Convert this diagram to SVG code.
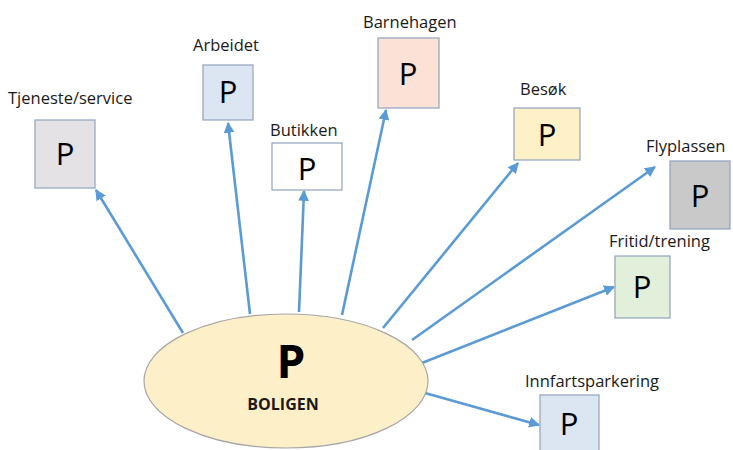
<svg xmlns="http://www.w3.org/2000/svg" width="733" height="450" viewBox="0 0 733 450">
<defs>
<style>
.box{stroke:#8fa3bd;stroke-width:1.2}
.lbl{font-family:"Open Sans","Liberation Sans",sans-serif;font-size:16.5px;fill:#1a1a1a}
.p{font-family:"Open Sans","Liberation Sans",sans-serif;font-size:31px;fill:#000;text-anchor:middle}
.conn{stroke:#5b9bd5;stroke-width:2.6;fill:none;marker-end:url(#ah)}
</style>
<marker id="ah" viewBox="0 0 10 10" refX="9" refY="5" markerWidth="4.2" markerHeight="4.2" orient="auto" markerUnits="strokeWidth">
<path d="M0,0 L10,5 L0,10 z" fill="#5b9bd5"/>
</marker>
</defs>
<rect width="733" height="450" fill="#fff"/>
<g id="connectors">
<line class="conn" x1="183" y1="333" x2="96" y2="190"/>
<line class="conn" x1="250" y1="314" x2="228" y2="123"/>
<line class="conn" x1="299" y1="312" x2="304" y2="191"/>
<line class="conn" x1="342" y1="315" x2="386" y2="110"/>
<line class="conn" x1="383" y1="328" x2="518" y2="163"/>
<line class="conn" x1="412" y1="340" x2="655" y2="167"/>
<line class="conn" x1="422" y1="363" x2="614" y2="287"/>
<line class="conn" x1="425" y1="393" x2="539" y2="425"/>
</g>
<g id="boligen">
<ellipse cx="286" cy="381" rx="142" ry="67" fill="#fdf0c8" stroke="#a6a6a6" stroke-width="1.2"/>
<text x="291" y="378" font-family="Open Sans, Liberation Sans, sans-serif" font-size="46" font-weight="bold" text-anchor="middle" fill="#000">P</text>
<text x="283" y="410" font-family="Open Sans, Liberation Sans, sans-serif" font-size="16" font-weight="bold" text-anchor="middle" fill="#1a1a1a">BOLIGEN</text>
</g>
<g id="tjeneste">
<text class="lbl" x="8" y="104">Tjeneste/service</text>
<rect class="box" x="35" y="120" width="60" height="68" fill="#e4e2e4"/>
<text class="p" x="65" y="165">P</text>
</g>
<g id="arbeidet">
<text class="lbl" x="193" y="51">Arbeidet</text>
<rect class="box" x="203" y="65" width="50" height="55" fill="#dce6f2"/>
<text class="p" x="228" y="103">P</text>
</g>
<g id="butikken">
<text class="lbl" x="270" y="136">Butikken</text>
<rect class="box" x="272" y="143" width="70" height="47" fill="#ffffff"/>
<text class="p" x="307" y="180">P</text>
</g>
<g id="barnehagen">
<text class="lbl" x="363" y="28">Barnehagen</text>
<rect class="box" x="378" y="38" width="61" height="70" fill="#fbe1d6"/>
<text class="p" x="408" y="85">P</text>
</g>
<g id="besok">
<text class="lbl" x="520" y="95">Besøk</text>
<rect class="box" x="514" y="108" width="66" height="52" fill="#fef1c8"/>
<text class="p" x="547" y="146">P</text>
</g>
<g id="flyplassen">
<text class="lbl" x="646" y="152">Flyplassen</text>
<rect class="box" x="670" y="161" width="60" height="68" fill="#c9c9c9"/>
<text class="p" x="700" y="207">P</text>
</g>
<g id="fritid">
<text class="lbl" x="609" y="247">Fritid/trening</text>
<rect class="box" x="615" y="256" width="55" height="62" fill="#e2efda"/>
<text class="p" x="642" y="298">P</text>
</g>
<g id="innfart">
<text class="lbl" x="525" y="387">Innfartsparkering</text>
<rect class="box" x="540" y="395" width="59" height="60" fill="#dce6f2"/>
<text class="p" x="569" y="435">P</text>
</g>
</svg>
